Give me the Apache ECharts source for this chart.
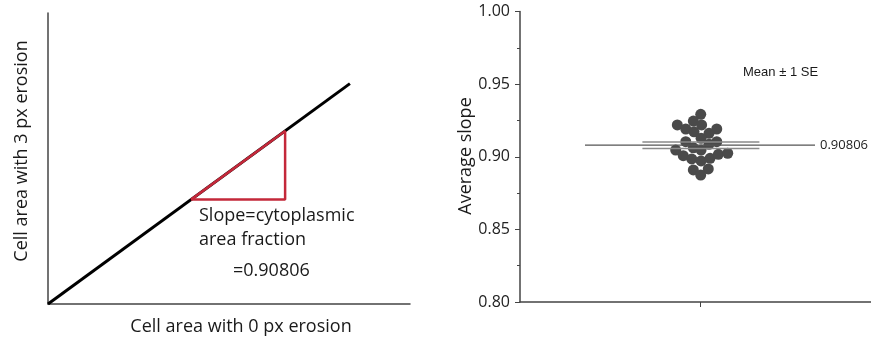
<!DOCTYPE html>
<html>
<head>
<meta charset="utf-8">
<script src="https://cdn.jsdelivr.net/npm/echarts@6/dist/echarts.min.js"></script>
<style>
  html, body { margin: 0; padding: 0; background: #fff; }
  #chart { width: 871px; height: 341px; }
</style>
</head>
<body>
<div id="chart"></div>
<script>
// left panel: schematic regression line and slope triangle
const fitLine = [[0, 0], [8.34, 7.573]];
const slopeTriangle = [[3.95, 3.587], [6.55, 5.948], [6.55, 3.587], [3.95, 3.587]];

// right panel: per-cell slopes (x = swarm offset, y = slope)
const swarmX = [0.004, -0.037, -0.126, 0.009, -0.079, -0.033, 0.093, 0.05, 0.006, -0.079, 0.05, 0.093,
  -0.037, -0.135, 0.006, -0.093, -0.046, 0.006, 0.056, 0.102, 0.154, -0.037, 0.046, 0.004];
const swarmY = [0.9292, 0.9246, 0.9219, 0.9219, 0.9191, 0.9172, 0.9191, 0.9161, 0.9127, 0.9104, 0.9086, 0.9104,
  0.9062, 0.9046, 0.9046, 0.9007, 0.8985, 0.8971, 0.8989, 0.9017, 0.9024, 0.8909, 0.8916, 0.8874];
const meanSlope = 0.90806;
const seUpper = 0.9102;
const seLower = 0.9057;
const slopeTicks = [0.80, 0.85, 0.90, 0.95, 1.00];

const chart = echarts.init(document.getElementById('chart'));

const axisGray = '#444';
const textFont = 'Open Sans';

chart.setOption({
  animation: false,
  grid: [
    { left: 48, top: 13, width: 362, height: 291 },
    { left: 520, top: 11.5, width: 351, height: 290.5 }
  ],
  xAxis: [
    {
      gridIndex: 0, type: 'value', min: 0, max: 10,
      axisLine: { show: true, lineStyle: { color: axisGray, width: 1.5 } },
      axisTick: { show: false }, axisLabel: { show: false }, splitLine: { show: false }
    },
    {
      gridIndex: 1, type: 'value', min: -1, max: 0.95,
      axisLine: { show: true, onZero: false, lineStyle: { color: axisGray, width: 1.5 } },
      axisTick: { show: true, customValues: [0], length: 5, lineStyle: { color: axisGray } },
      axisLabel: { show: false }, splitLine: { show: false }
    }
  ],
  yAxis: [
    {
      gridIndex: 0, type: 'value', min: 0, max: 10,
      axisLine: { show: true, lineStyle: { color: axisGray, width: 1.5 } },
      axisTick: { show: false }, axisLabel: { show: false }, splitLine: { show: false }
    },
    {
      gridIndex: 1, type: 'value', min: 0.8, max: 1.0, interval: 0.05,
      axisLine: { show: true, onZero: false, lineStyle: { color: axisGray, width: 1.5 } },
      axisTick: { show: true, length: 5, lineStyle: { color: axisGray } },
      minorTick: { show: true, splitNumber: 2, length: 3, lineStyle: { color: axisGray } },
      axisLabel: {
        margin: 10, color: '#222', fontFamily: textFont, fontSize: 16,
        formatter: v => slopeTicks.find(t => Math.abs(t - v) < 1e-6).toFixed(2)
      },
      splitLine: { show: false }
    }
  ],
  series: [
    {
      type: 'line', xAxisIndex: 0, yAxisIndex: 0, data: fitLine,
      symbol: 'none', lineStyle: { color: '#000', width: 3 }
    },
    {
      type: 'line', xAxisIndex: 0, yAxisIndex: 0, data: slopeTriangle, z: 3,
      symbol: 'none', lineStyle: { color: '#c4283a', width: 2.5 }
    },
    {
      type: 'scatter', xAxisIndex: 1, yAxisIndex: 1, z: 2,
      data: swarmX.map((x, i) => [x, swarmY[i]]),
      symbolSize: 11, itemStyle: { color: '#4a4a4a', opacity: 1 }
    },
    {
      type: 'line', xAxisIndex: 1, yAxisIndex: 1, z: 3,
      data: [[-0.32, seUpper], [0.33, seUpper]],
      symbol: 'none', lineStyle: { color: '#8a8a8a', width: 1.5 }
    },
    {
      type: 'line', xAxisIndex: 1, yAxisIndex: 1, z: 3,
      data: [[-0.32, seLower], [0.33, seLower]],
      symbol: 'none', lineStyle: { color: '#8a8a8a', width: 1.5 }
    },
    {
      type: 'line', xAxisIndex: 1, yAxisIndex: 1, z: 4,
      data: [[-0.639, meanSlope], [0.639, meanSlope]],
      symbol: 'none', lineStyle: { color: '#555', width: 1.2 },
      endLabel: {
        show: true, distance: 5, color: '#222', fontFamily: textFont, fontSize: 13,
        formatter: () => meanSlope.toFixed(5)
      }
    }
  ],
  graphic: [
    {
      type: 'text', x: 241, y: 327,
      style: { text: 'Cell area with 0 px erosion', font: '18px "Open Sans"', fill: '#1a1a1a', align: 'center', verticalAlign: 'middle' }
    },
    {
      type: 'text', x: 22, y: 151, rotation: Math.PI / 2,
      style: { text: 'Cell area with 3 px erosion', font: '18px "Open Sans"', fill: '#1a1a1a', align: 'center', verticalAlign: 'middle' }
    },
    {
      type: 'text', x: 199, y: 216,
      style: { text: 'Slope=cytoplasmic', font: '18px "Open Sans"', fill: '#1a1a1a', align: 'left', verticalAlign: 'middle' }
    },
    {
      type: 'text', x: 199, y: 240,
      style: { text: 'area fraction', font: '18px "Open Sans"', fill: '#1a1a1a', align: 'left', verticalAlign: 'middle' }
    },
    {
      type: 'text', x: 233, y: 271,
      style: { text: '=0.90806', font: '18px "Open Sans"', fill: '#1a1a1a', align: 'left', verticalAlign: 'middle' }
    },
    {
      type: 'text', x: 466, y: 156, rotation: Math.PI / 2,
      style: { text: 'Average slope', font: '18px "Open Sans"', fill: '#1a1a1a', align: 'center', verticalAlign: 'middle' }
    },
    {
      type: 'text', x: 743, y: 72,
      style: { text: 'Mean \u00b1 1 SE', font: '13px "Liberation Sans"', fill: '#1a1a1a', align: 'left', verticalAlign: 'middle' }
    }
  ]
});
</script>
</body>
</html>
